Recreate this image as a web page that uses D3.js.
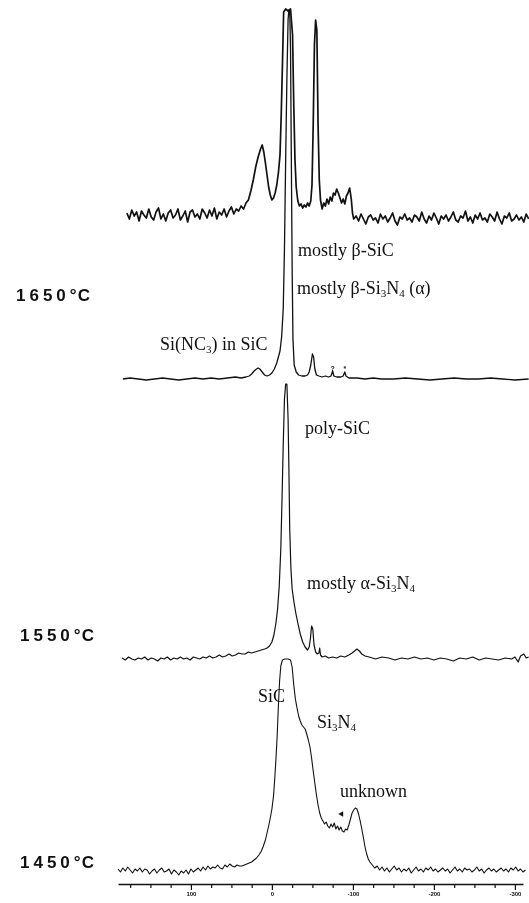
<!DOCTYPE html>
<html lang="en">
<head>
<meta charset="UTF-8">
<title>29Si MAS NMR</title>
<style>
  body { margin: 0; background: #fff; }
  svg { display: block; will-change: transform; }
  .lbl { font-family: "Liberation Serif", "Times New Roman", serif; font-size: 18px; fill: #111; }
  .temp { font-family: "Liberation Sans", Arial, sans-serif; font-weight: bold; font-size: 17px; fill: #111; }
  .mark { font-family: "Liberation Sans", Arial, sans-serif; font-size: 7px; font-weight: bold; fill: #111; }
</style>
</head>
<body>
<svg></svg>
<script src="https://cdn.jsdelivr.net/npm/d3@7/dist/d3.min.js"></script>
<script>
var width = 529
var height = 903

// chemical shift axis, ppm
var ppmDomain = [190, -310]
var tickLabels = [100, 0, -100, -200, -300]
var minorTicks = [175, 150, 125, 100, 75, 50, 25, 0, -25, -50, -75, -100, -125, -150, -175, -200, -225, -250, -275, -300]

var temperatures = ["1650°C", "1550°C", "1450°C"]

// traces: [ppm, intensity (a.u.)]
var traceTop = [
  [179,2],[176,-4],[173,5],[170,-1],[167,3],[164,-6],[161,4],[158,0],[155,-3],[152,6],[149,-2],[146,-5],[143,3],[140,7],
  [137,-4],[134,1],[131,-6],[128,2],[125,5],[122,-3],[119,0],[116,6],[113,-5],[110,-1],[107,4],[104,-7],[101,3],[98,5],
  [95,-2],[92,1],[89,-4],[86,6],[83,2],[80,-3],[77,5],[74,-1],[71,7],[68,-4],[65,3],[62,0],[59,6],[56,-2],[53,4],[50,8],
  [47,1],[44,6],[41,4],
  [38,9],[35,6],[32,12],[29,15],[26,24],[23,35],[20,48],[17,58],[14,66],[12,70],[10,63],[8,52],[6,40],[4,28],[2,20],[0,15],
  [-2,17],[-4,22],[-6,30],[-8,42],[-10,60],[-11.5,100],[-13,150],[-14.5,203],[-17,206],[-20,204],[-23,206],[-25.5,180],[-27,110],
  [-28.5,55],[-30,28],[-32,14],[-34,9],[-36,11],[-38,7],[-40,10],[-42,8],[-44,12],[-46,9],[-48,14],[-49.5,30],[-51,90],[-52.5,170],
  [-54,195],[-55.5,185],[-57,90],[-58.5,35],[-60,15],[-62,6],[-64,12],[-66,9],[-68,16],[-70,11],[-72,18],[-74,14],[-76,22],[-78,20],
  [-80,26],[-82,22],[-84,17],[-86,12],[-88,16],[-90,11],[-92,19],[-94,22],[-96,27],[-98,16],[-99.5,2],[-101,-4],
  [-104,-1],[-107,-6],[-110,1],[-113,-4],[-116,-9],[-119,-2],[-122,0],[-125,-5],[-128,-3],[-131,-8],[-134,1],[-137,-4],
  [-140,-1],[-143,-7],[-146,-3],[-149,2],[-152,-6],[-155,-10],[-158,-2],[-161,-4],[-164,1],[-167,-5],[-170,-3],[-173,-7],
  [-176,0],[-179,-2],[-182,-6],[-185,3],[-188,-4],[-191,-8],[-194,-1],[-197,-5],[-200,2],[-203,-3],[-206,-9],[-209,-1],
  [-212,-4],[-215,0],[-218,-6],[-221,-2],[-224,3],[-227,-5],[-230,-7],[-233,-1],[-236,-3],[-239,4],[-242,-6],[-245,-2],
  [-248,-8],[-251,0],[-254,-4],[-257,2],[-260,-5],[-263,-3],[-266,-7],[-269,1],[-272,-2],[-275,-6],[-278,3],[-281,-4],
  [-284,-9],[-287,-1],[-290,-3],[-293,2],[-296,-6],[-299,-4],[-302,0],[-305,-5],[-308,-2],[-311,-7],[-314,1],[-317,-4]
]

var trace1650 = [
  [184,0],[175,1],[165,0],[155,-1],[145,0],[135,1],[125,0],[115,-1],[105,0],[95,1],[85,0],[75,1],[65,0],[55,1],[45,2],[38,1],
  [32,2],[28,3],[25,5],[22,8],[19,10],[17,11],[15,10],[12,7],[9,4],[6,3],[3,4],[0,6],[-3,10],[-6,16],[-8,22],[-10,28],[-12,42],
  [-14,70],[-15.5,130],[-17,220],[-18.5,300],[-20,360],[-21,369],[-22,369],[-23,330],[-24,220],[-25,110],[-26,40],[-27.5,14],
  [-30,7],[-33,4],[-37,3],[-41,3],[-44,4],[-46,7],[-48,14],[-50,25],[-51.5,22],[-53,10],[-55,4],[-58,3],[-62,2],[-66,3],[-70,2],
  [-73,3],[-75,8],[-76.5,3],[-80,2],[-85,2],[-88,3],[-90,7],[-91.5,3],[-95,1],[-105,1],[-115,0],[-125,1],[-135,0],[-150,0],
  [-165,1],[-180,0],[-195,-1],[-210,0],[-225,1],[-240,0],[-255,0],[-270,1],[-285,0],[-300,-1],[-317,0]
]

var trace1550 = [
  [185,1],[181,-1],[177,2],[173,0],[169,-1],[165,1],[161,0],[157,2],[153,-1],[149,1],[145,0],[141,-2],[137,1],[133,0],[129,2],
  [125,-1],[121,1],[117,0],[113,2],[109,0],[105,1],[101,-1],[97,2],[93,1],[89,0],[85,2],[81,1],[77,3],[73,1],[69,2],[65,4],
  [61,2],[57,3],[53,5],[49,3],[45,4],[41,6],[37,5],[33,5],[29,7],[25,6],[21,7],[17,8],[13,9],[9,10],[6,11],[3,13],[0,17],
  [-2.5,24],[-5,36],[-7,50],[-9,72],[-11,110],[-12.5,160],[-14,215],[-15.5,260],[-17,275],[-18.5,275],[-20,240],[-21,190],
  [-22,130],[-23.5,90],[-25,70],[-27,58],[-29.5,46],[-32,36],[-35,25],[-38,17],[-41,12],[-44,9],[-46,12],[-47.5,20],[-49,33],
  [-50.5,30],[-52,14],[-54,7],[-56,5],[-58,6],[-59,11],[-60,4],[-62,2],[-66,3],[-70,1],[-75,2],[-80,1],[-85,3],[-90,2],[-95,4],
  [-99,6],[-102,8],[-105,10],[-108,8],[-111,5],[-115,3],[-120,2],[-128,0],[-136,2],[-144,1],[-152,-1],[-160,1],[-168,0],[-176,2],
  [-184,0],[-192,1],[-200,-1],[-208,1],[-216,0],[-224,-2],[-232,1],[-240,0],[-248,2],[-256,-1],[-264,1],[-272,0],[-280,-1],
  [-288,1],[-296,0],[-300,2],[-304,-3],[-307,3],[-311,5],[-314,1],[-317,2]
]

var trace1450 = [
  [190,2],[187,-1],[184,3],[181,0],[178,4],[175,1],[172,-2],[169,2],[166,0],[163,3],[160,-1],[157,2],[154,1],[151,-3],[148,0],
  [145,2],[142,-2],[139,1],[136,3],[133,-1],[130,0],[127,2],[124,-3],[121,1],[118,-1],[115,-4],[112,0],[109,-2],[106,1],[103,-3],
  [100,2],[97,-1],[94,1],[91,3],[88,0],[85,4],[82,1],[79,5],[76,2],[73,4],[70,3],[67,6],[64,3],[61,2],[58,6],[55,4],[52,7],
  [49,5],[46,4],[43,6],[40,5],[37,5],[34,6],[31,7],[28,8],
  [25,9],[22,11],[19,13],[16,16],[13,20],[11,24],[8,31],[6,38],[4,45],[2,53],[0,62],[-2,75],[-3.5,92],[-5,112],[-6.5,135],
  [-8,165],[-9.5,190],[-11,205],[-13,211],[-16,212],[-20,212],[-23,211],[-25,204],[-27,186],[-29,172],[-31,163],[-33,155],
  [-35,150],[-37,146],[-39,144],[-41,142],[-43,137],[-45,131],[-47,124],[-49,113],[-51,100],[-53,88],[-55,76],[-57,66],[-59,58],
  [-61,53],[-63,50],[-65,47],[-67,49],[-69,45],[-71,43],[-73,47],[-75,44],[-77,48],[-79,42],[-81,45],[-83,41],[-85,44],[-87,40],
  [-89,39],[-91,42],[-93,41],[-95,46],[-97,52],[-99,58],[-101,61],[-103,63],[-105,62],[-107,57],[-109,50],[-111,42],[-113,33],
  [-115,24],[-117,17],[-119,12],[-121,9],[-124,6],[-127,3],[-130,5],
  [-133,1],[-136,4],[-139,0],[-142,3],[-145,-1],[-148,2],[-151,5],[-154,1],[-157,3],[-160,-1],[-163,2],[-166,0],[-169,3],[-172,-2],
  [-175,1],[-178,4],[-181,0],[-184,2],[-187,-1],[-190,3],[-193,1],[-196,4],[-199,0],[-202,2],[-205,-1],[-208,1],[-211,3],[-214,0],
  [-217,2],[-220,-2],[-223,1],[-226,4],[-229,0],[-232,2],[-235,-1],[-238,3],[-241,1],[-244,2],[-247,-1],[-250,1],[-253,4],[-256,0],
  [-259,2],[-262,-2],[-265,1],[-268,3],[-271,0],[-274,2],[-277,-1],[-280,1],[-283,3],[-286,0],[-289,2],[-292,-1],[-295,3],[-298,1],
  [-301,4],[-304,0],[-307,2],[-310,-1],[-313,1]
]

// peak assignments, parts: [text, subscript?]
var labelTexts = [
  [["mostly β-SiC", 0]],
  [["mostly β-Si", 0], ["3", 1], ["N", 0], ["4", 1], [" (α)", 0]],
  [["Si(NC", 0], ["3", 1], [") in SiC", 0]],
  [["poly-SiC", 0]],
  [["mostly α-Si", 0], ["3", 1], ["N", 0], ["4", 1]],
  [["SiC", 0]],
  [["Si", 0], ["3", 1], ["N", 0], ["4", 1]],
  [["unknown", 0]]
]

// ---- layout ----
var svg = d3.select("svg")
  .attr("width", width)
  .attr("height", height)

var x = d3.scaleLinear()
  .domain(ppmDomain)
  .range([118, 523])

var panels = [
  {data: traceTop, base: 215, stroke: 1.7},
  {data: trace1650, base: 379, stroke: 1.3},
  {data: trace1550, base: 659, stroke: 1.2},
  {data: trace1450, base: 871, stroke: 1.1}
]

panels.forEach(function(p) {
  p.y = d3.scaleLinear().domain([0, 100]).range([p.base, p.base - 100])
  var line = d3.line()
    .x(d => x(d[0]))
    .y(d => p.y(d[1]))
  svg.append("path")
    .datum(p.data)
    .attr("d", line)
    .attr("fill", "none")
    .attr("stroke", "#111")
    .attr("stroke-width", p.stroke)
    .attr("stroke-linejoin", "round")
})

// temperature labels: spaced digits, tight degree sign
var tempPos = [[16, 301], [20, 641], [20, 868]]
svg.selectAll(".temp")
  .data(temperatures)
  .join("text")
  .attr("class", "temp")
  .attr("x", (d, i) => tempPos[i][0])
  .attr("y", (d, i) => tempPos[i][1])
  .each(function(d) {
    var t = d3.select(this)
    t.append("tspan").attr("letter-spacing", "4px").text(d.slice(0, 4))
    t.append("tspan").attr("letter-spacing", "1px").text(d.slice(4))
  })

// assignment labels
var labelPos = [[298, 256], [297, 294], [160, 350], [305, 434], [307, 589], [258, 702], [317, 728], [340, 797]]
labelTexts.forEach(function(parts, i) {
  var t = svg.append("text")
    .attr("class", "lbl")
    .attr("x", labelPos[i][0])
    .attr("y", labelPos[i][1])
  var shifted = false
  parts.forEach(function(pt) {
    var ts = t.append("tspan").text(pt[0])
    if (pt[1]) {
      ts.attr("font-size", "11px").attr("dy", shifted ? 0 : 3)
      shifted = true
    } else {
      if (shifted) ts.attr("dy", -3)
      shifted = false
    }
  })
})

// small markers on the 1650 and 1450 traces
svg.append("text").attr("class", "mark")
  .attr("x", x(-75)).attr("y", panels[1].y(8))
  .attr("text-anchor", "middle").text("?")
svg.append("text").attr("class", "mark")
  .attr("x", x(-90)).attr("y", panels[1].y(8))
  .attr("text-anchor", "middle").text("*")
svg.append("path")
  .attr("d", d3.symbol(d3.symbolTriangle, 14))
  .attr("transform", `translate(${x(-86)},${panels[3].y(57)}) rotate(-90)`)
  .attr("fill", "#111")

// ppm axis
var axis = svg.append("g")
  .attr("transform", "translate(0, 884)")
  .call(d3.axisBottom(x)
    .tickValues(minorTicks)
    .tickSize(4)
    .tickSizeOuter(0)
    .tickPadding(4)
    .tickFormat(d => tickLabels.indexOf(d) >= 0 ? String(d) : ""))

axis.select(".domain").attr("stroke", "#111").attr("stroke-width", 1.6)
axis.selectAll(".tick line").attr("stroke", "#111").attr("stroke-width", 1.2)
  .attr("y2", d => tickLabels.indexOf(d) >= 0 ? 6 : 4)
axis.selectAll(".tick text")
  .attr("fill", "#111")
  .style("font-family", "'Liberation Sans', Arial, sans-serif")
  .style("font-size", "6px")
  .style("font-weight", "bold")
</script>
</body>
</html>
